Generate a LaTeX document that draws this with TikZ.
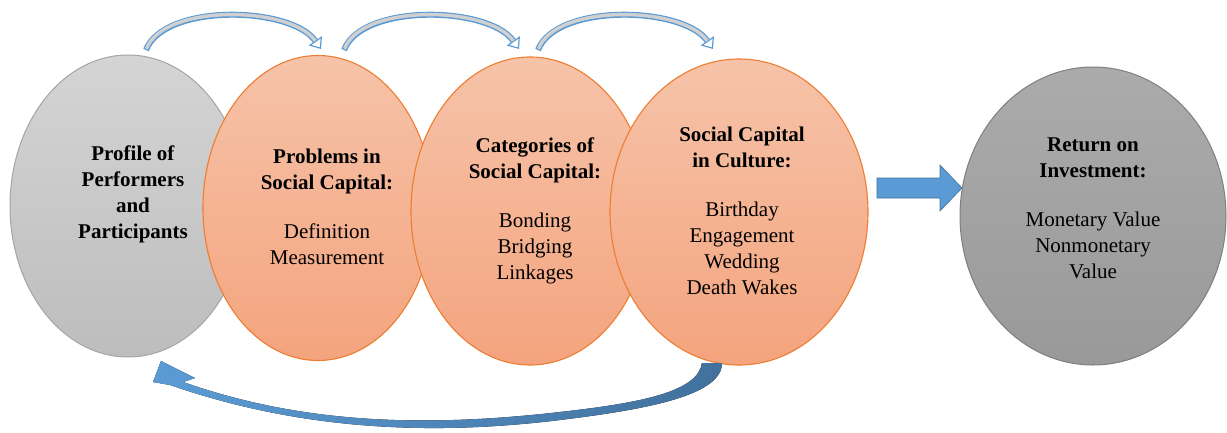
\documentclass[tikz,border=0pt]{standalone}
\usepackage{fontspec}
\setmainfont{Liberation Serif}
\newfontfamily\tnr{Liberation Serif}
\usetikzlibrary{shapes.geometric,arrows.meta,calc}
\definecolor{orfillA}{HTML}{F6C3A9}
\definecolor{orfillB}{HTML}{F4A47E}
\definecolor{ordraw}{HTML}{ED7D31}
\definecolor{grfillA}{HTML}{D4D4D4}
\definecolor{grfillB}{HTML}{BDBDBD}
\definecolor{grdraw}{HTML}{A5A5A5}
\definecolor{dgfillA}{HTML}{ABABAB}
\definecolor{dgfillB}{HTML}{999999}
\definecolor{dgdraw}{HTML}{7F7F7F}
\definecolor{arrblue}{HTML}{5B9BD5}
\definecolor{arrdark}{HTML}{41719C}
\definecolor{bandgrey}{HTML}{D0D0D0}
\begin{document}
\begin{tikzpicture}[x=1pt,y=-1pt,
  oval/.style={ellipse, inner sep=0pt},
  orangeoval/.style={oval, draw=ordraw, line width=1.1pt, top color=orfillA, bottom color=orfillB},
  greyoval/.style={oval, draw=grdraw, line width=1pt, top color=grfillA, bottom color=grfillB},
  darkoval/.style={oval, draw=dgdraw, line width=1pt, top color=dgfillA, bottom color=dgfillB},
  txt/.style={align=center, font=\tnr\fontsize{21}{26}\selectfont, inner sep=0pt},
  bandout/.style={draw=arrblue, line width=6pt, -{Triangle[open, length=10pt, width=16pt, line width=1.2pt, fill=white]}},
  bandin/.style={draw=bandgrey, line width=3.4pt, shorten >=10pt, shorten <=1.2pt},
  blockarrow/.style={fill=arrblue, draw=arrdark, line width=0.6pt},
  backarrow/.style={left color=arrblue, right color=arrdark, draw=none}
]
\useasboundingbox (0,0) rectangle (1227,432);

% ellipses
\node[greyoval, minimum width=236pt, minimum height=302pt] (e1) at (128,206) {};
\node[orangeoval, minimum width=230pt, minimum height=305pt] (e2) at (318,208) {};
\node[orangeoval, minimum width=238pt, minimum height=308pt] (e3) at (530,211) {};
\node[orangeoval, minimum width=258pt, minimum height=306pt] (e4) at (739,212) {};
\node[darkoval, minimum width=266pt, minimum height=298pt] (e5) at (1093,216) {};

% texts
\node[txt] (t1) at (133,194) {\textbf{Profile of}\\\textbf{Performers}\\\textbf{and}\\\textbf{Participants}};
\node[txt] (t2) at (327,207) {\textbf{Problems in}\\\textbf{Social Capital:}\\[23pt]Definition\\Measurement};
\node[txt] (t3) at (535,211) {\textbf{Categories of}\\\textbf{Social Capital:}\\[23pt]Bonding\\Bridging\\Linkages};
\node[txt] (t4) at (742,211) {\textbf{Social Capital}\\\textbf{in Culture:}\\[23pt]Birthday\\Engagement\\Wedding\\Death Wakes};
\node[txt] (t5) at (1093,208) {\textbf{Return on}\\\textbf{Investment:}\\[23pt]Monetary Value\\Nonmonetary\\Value};

% top curved arrows
\coordinate (a1s) at (146,50); \coordinate (a1e) at (321,49);
\coordinate (a2s) at (344,50); \coordinate (a2e) at (519,49);
\coordinate (a3s) at (538,50); \coordinate (a3e) at (713,49);
\foreach \s/\e in {a1s/a1e, a2s/a2e, a3s/a3e}{
  \draw[bandout] (\s) .. controls ($(\s)+(18,-47)$) and ($(\e)+(-30,-43)$) .. (\e);
  \draw[bandin] (\s) .. controls ($(\s)+(18,-47)$) and ($(\e)+(-30,-43)$) .. (\e);
}

% block arrow from e4 to e5
\coordinate (b1) at (877,188);
\coordinate (b2) at (962,188);
\fill[blockarrow] ($(b1)+(0,-10)$) -- ($(b2)+(-22,-10)$) -- ($(b2)+(-22,-23)$) -- (b2)
  -- ($(b2)+(-22,23)$) -- ($(b2)+(-22,10)$) -- ($(b1)+(0,10)$) -- cycle;

% bottom return arrow from e4 back to e1
\coordinate (rt1) at (702,363);
\coordinate (rt2) at (722,363);
\coordinate (tip) at (161,361);
\fill[backarrow] (rt1) .. controls (698,392) and (640,403) .. (560,412)
  .. controls (420,428) and (300,423) .. (183,382)
  -- (195,378) -- (tip) -- (153,382) -- (170,385)
  .. controls (300,430) and (430,436) .. (560,420)
  .. controls (650,409) and (722,395) .. (rt2) -- cycle;
\end{tikzpicture}
\end{document}
